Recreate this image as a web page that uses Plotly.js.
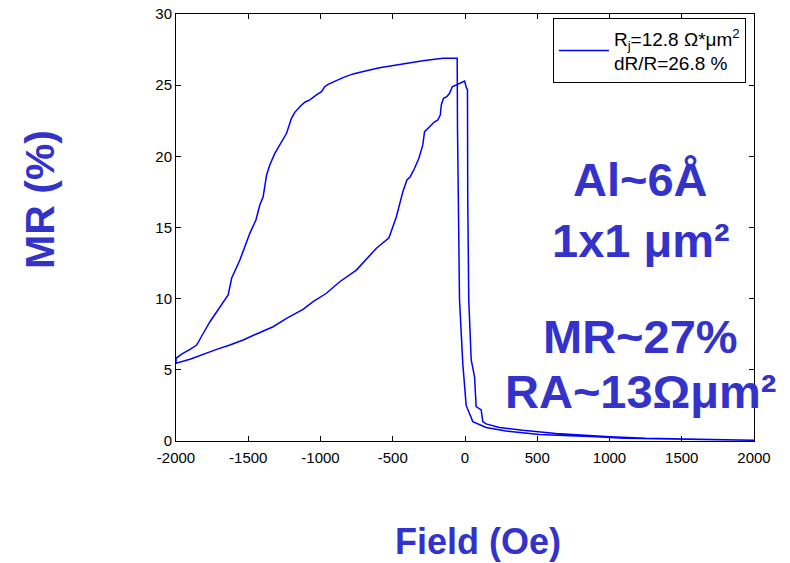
<!DOCTYPE html>
<html>
<head>
<meta charset="utf-8">
<script src="https://cdn.plot.ly/plotly-3.0.1.min.js"></script>
<style>html,body{margin:0;padding:0;background:#fff;}#chart{width:790px;height:563px;}</style>
</head>
<body>
<div id="chart"></div>
<script>
// Downward sweep (+2000 Oe -> -2000 Oe)
const downField = [2000, 1800, 1600, 1366, 1100, 906, 700, 515, 330, 284, 146, 54, 8, -15, -38, -48, -52, -54, -153, -292, -418, -522, -591, -660, -729, -775, -844, -902, -948, -971, -993, -1028, -1074, -1109, -1143, -1178, -1201, -1235, -1270, -1316, -1351, -1373, -1397, -1420, -1447, -1489, -1558, -1615, -1639, -1696, -1765, -1811, -1857, -1903, -1961, -2000];
const downMR = [0.05, 0.08, 0.1, 0.12, 0.2, 0.3, 0.38, 0.45, 0.65, 0.7, 0.95, 1.36, 2.5, 5.4, 9.9, 16.9, 22.0, 26.89, 26.89, 26.72, 26.53, 26.35, 26.23, 26.07, 25.88, 25.79, 25.53, 25.29, 25.06, 24.89, 24.54, 24.31, 23.96, 23.80, 23.49, 23.09, 22.67, 21.62, 21.03, 20.21, 19.39, 18.69, 17.16, 16.58, 15.53, 14.59, 12.72, 11.43, 10.26, 9.44, 8.38, 7.57, 6.74, 6.44, 6.11, 5.81];

// Upward sweep (-2000 Oe -> +2000 Oe)
const upField = [-2000, -1903, -1811, -1719, -1627, -1535, -1443, -1328, -1235, -1121, -1051, -959, -867, -752, -613, -526, -475, -455, -430, -402, -379, -349, -319, -292, -280, -245, -211, -188, -171, -164, -149, -126, -107, -88, -50, -3, 10, 17, 19, 26, 43, 66, 77, 112, 123, 146, 238, 399, 630, 791, 1000, 1252, 1500, 1800, 2000];
const upMR = [5.46, 5.74, 6.11, 6.44, 6.74, 7.10, 7.52, 8.03, 8.62, 9.25, 9.79, 10.38, 11.19, 12.01, 13.54, 14.28, 15.76, 16.6, 17.52, 18.34, 18.57, 19.16, 19.86, 20.80, 21.73, 22.08, 22.43, 22.55, 22.90, 23.61, 24.08, 24.19, 24.43, 24.89, 25.06, 25.29, 24.8, 24.7, 16.9, 9.9, 5.69, 4.52, 2.41, 2.18, 1.36, 1.2, 0.95, 0.75, 0.52, 0.42, 0.3, 0.19, 0.12, 0.08, 0.05];

const xTicks = [-2000, -1500, -1000, -500, 0, 500, 1000, 1500, 2000];
const yTicks = [0, 5, 10, 15, 20, 25, 30];

const legendName = 'R<sub>j</sub>=12.8 Ω*μm<sup>2</sup><br>dR/R=26.8 %';
const noteLines = ['Al~6Å', '1x1 μm²', 'MR~27%', 'RA~13Ωμm²'];
const xTitle = 'Field (Oe)';
const yTitle = 'MR (%)';

const blueText = '#3333CC';
const fam = 'Liberation Sans, Arial, Helvetica, sans-serif';

const trace = {
  x: downField.concat(upField),
  y: downMR.concat(upMR),
  type: 'scatter',
  mode: 'lines',
  name: legendName,
  line: {color: '#0000FF', width: 1.5},
  showlegend: true
};

const axisCommon = {
  showgrid: false,
  zeroline: false,
  showline: true,
  linecolor: '#000',
  linewidth: 1,
  mirror: 'ticks',
  ticks: 'inside',
  ticklen: 5,
  tickcolor: '#000',
  tickfont: {family: fam, size: 15, color: '#000'}
};

const notePos = [0.612, 0.470, 0.245, 0.116];
const annotations = noteLines.map((t, i) => ({
  text: t, xref: 'paper', yref: 'paper', x: 0.804, y: notePos[i],
  xanchor: 'center', yanchor: 'middle', showarrow: false,
  font: {family: fam, size: 47, color: blueText, weight: 'bold'}
}));
annotations.push({
  text: xTitle, xref: 'paper', yref: 'paper', x: 0.523, y: -0.235,
  xanchor: 'center', yanchor: 'middle', showarrow: false,
  font: {family: fam, size: 36, color: blueText, weight: 'bold'}
});
annotations.push({
  text: yTitle, xref: 'paper', yref: 'paper', x: -0.235, y: 0.565,
  xanchor: 'center', yanchor: 'middle', showarrow: false, textangle: -90,
  font: {family: fam, size: 41, color: blueText, weight: 'bold'}
});

const layout = {
  width: 790, height: 563,
  margin: {l: 176, r: 35.5, t: 14.3, b: 121.5, pad: 0},
  paper_bgcolor: '#fff', plot_bgcolor: '#fff',
  font: {family: fam, color: '#000'},
  xaxis: Object.assign({}, axisCommon, {range: [-2000, 2000], tickvals: xTicks, ticktext: xTicks.map(String), ticklabelstandoff: 3}),
  yaxis: Object.assign({}, axisCommon, {range: [0, 30], tickvals: yTicks, ticktext: yTicks.map(String)}),
  legend: {
    x: 0.986, y: 0.99, xanchor: 'right', yanchor: 'top',
    bgcolor: '#fff', bordercolor: '#000', borderwidth: 1,
    itemwidth: 50,
    font: {family: fam, size: 19, color: '#000'}
  },
  annotations: annotations,
  showlegend: true
};

Plotly.newPlot('chart', [trace], layout, {displayModeBar: false, staticPlot: true});
</script>
</body>
</html>
